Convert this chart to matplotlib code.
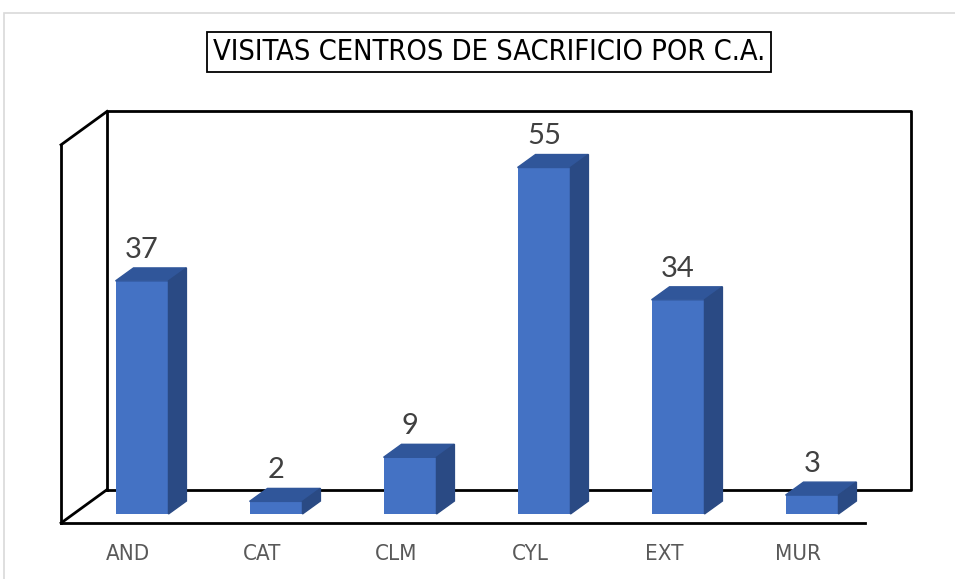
import matplotlib
matplotlib.use('Agg')
import matplotlib.pyplot as plt
from matplotlib.patches import Polygon, Rectangle

# data
categories = ['AND', 'CAT', 'CLM', 'CYL', 'EXT', 'MUR']
visitas = [37, 2, 9, 55, 34, 3]
title = 'VISITAS CENTROS DE SACRIFICIO POR C.A.'

front_col = '#4472C4'
top_col = '#30569A'
side_col = '#2A4A84'

narrow = dict(family='DejaVu Sans', fontstretch='condensed')

fig = plt.figure(figsize=(9.55, 5.79), dpi=100)
ax = fig.add_axes([0, 0, 1, 1])
ax.set_xlim(-142 / 134, (955 - 142) / 134)
ax.set_ylim(-65 / 6.3, 514 / 6.3)
ax.axis('off')

# outer chart border
fig.patches.append(Rectangle((4 / 955, -0.1), 1.2, (579 - 13) / 579 + 0.1,
                             transform=fig.transFigure, fill=False,
                             edgecolor='#D9D9D9', lw=1.2))

# walls / floor (depth offset of the plot box)
wdx, wdy = 0.343, 5.3
fx0, fx1 = -0.604, 5.396
fy = -1.43
ytop = 58.6
k = dict(color='black', lw=2, solid_capstyle='projecting', zorder=1)
ax.plot([fx0 + wdx, fx1 + wdx, fx1 + wdx, fx0 + wdx, fx0 + wdx],
        [fy + wdy, fy + wdy, ytop + wdy, ytop + wdy, fy + wdy], **k)
ax.plot([fx0, fx0 + wdx], [fy, fy + wdy], **k)
ax.plot([fx0, fx0 + wdx], [ytop, ytop + wdy], **k)
ax.plot([fx0, fx0], [fy, ytop], **k)
ax.plot([fx0, fx1], [fy, fy], **k)

# 3d bars
bw = 0.395
bdx, bdy = 0.134, 2.06
for i, v in enumerate(visitas):
    x0, x1 = i - bw / 2, i + bw / 2
    ax.bar(i, v, width=bw, color=front_col, zorder=3)
    ax.add_patch(Polygon([(x0, v), (x1, v), (x1 + bdx, v + bdy), (x0 + bdx, v + bdy)],
                         closed=True, color=top_col, zorder=3))
    ax.add_patch(Polygon([(x1, 0), (x1 + bdx, bdy), (x1 + bdx, v + bdy), (x1, v)],
                         closed=True, color=side_col, zorder=3))
    ax.text(i, v + bdy + 0.8, str(v), ha='center', va='bottom', fontsize=21,
            color='#404040', family=['Lato', 'DejaVu Sans'], zorder=4)
    ax.text(i - 0.105, -6.35, categories[i], ha='center', va='center', fontsize=16,
            color='#595959', **narrow)

# title in box
fig.text(489 / 955, 1 - 52 / 579, title, ha='center', va='center', fontsize=20.8,
         color='black', **narrow,
         bbox=dict(boxstyle='square,pad=0.2', facecolor='white', edgecolor='black', lw=1.3))

fig.savefig('out.png', dpi=100)
